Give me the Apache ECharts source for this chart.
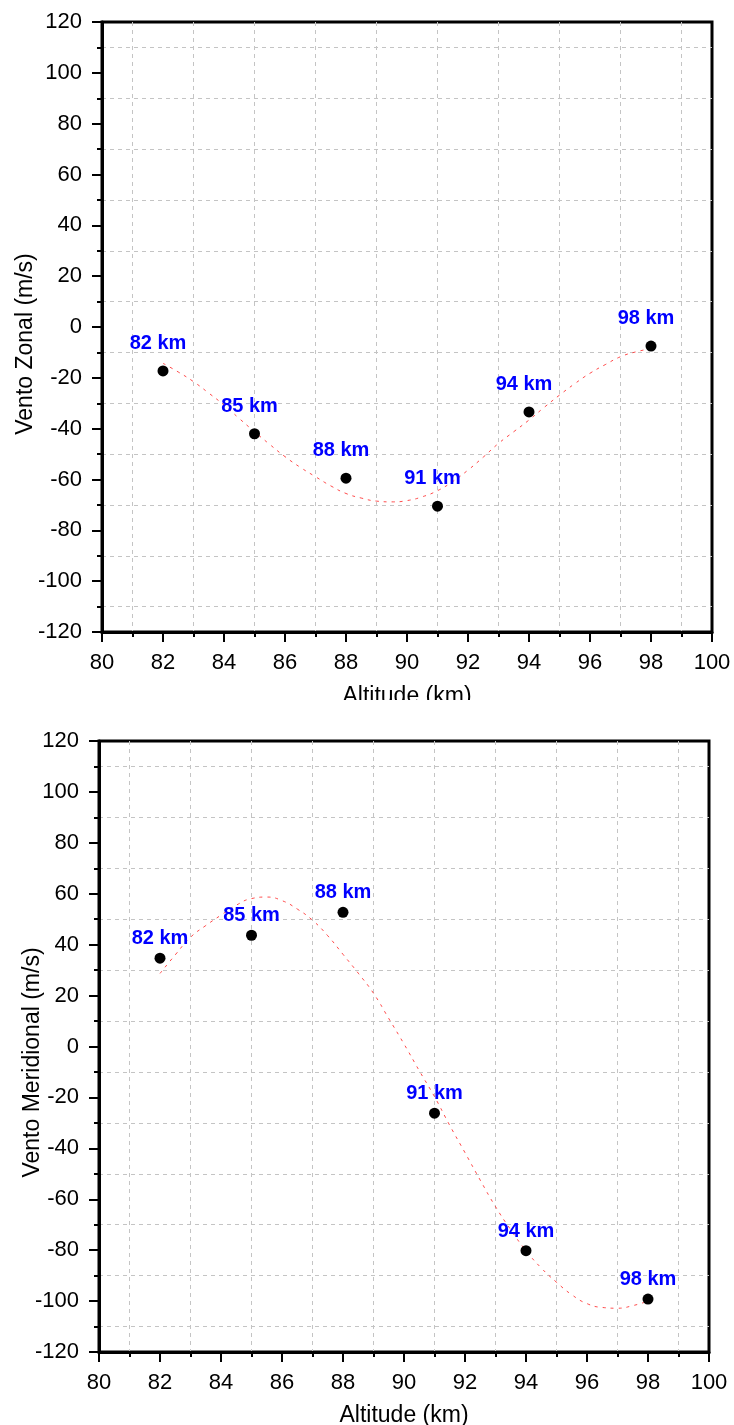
<!DOCTYPE html>
<html>
<head>
<meta charset="utf-8">
<script src="https://cdn.jsdelivr.net/npm/echarts@6/dist/echarts.min.js"></script>
<style>
  html, body { margin: 0; padding: 0; background: #fff; }
  #top { position: absolute; left: 0; top: 0; width: 734px; height: 700px; }
  #bottom { position: absolute; left: 0; top: 700px; width: 734px; height: 725px; }
</style>
</head>
<body>
<div id="top"></div>
<div id="bottom"></div>
<script>
// ---- data ----
const altitudes = [82, 85, 88, 91, 94, 98];
const pointLabels = ['82 km', '85 km', '88 km', '91 km', '94 km', '98 km'];
const zonalValues = [-17.3, -42, -59.5, -70.5, -33.4, -7.5];
const meridionalValues = [34.7, 43.7, 52.7, -26.2, -80.2, -99.2];

const fitAltitudes = [82, 82.5, 83, 83.5, 84, 84.5, 85, 85.5, 86, 86.5, 87, 87.5, 88, 88.5, 89, 89.5,
  90, 90.5, 91, 91.5, 92, 92.5, 93, 93.5, 94, 94.5, 95, 95.5, 96, 96.5, 97, 97.5, 98];
const zonalFit = [-14.3, -17.7, -21.5, -26, -30.7, -36, -41.2, -46.2, -51, -55.2, -58.9, -62.5, -65.5, -67.3, -68.5, -68.8,
  -68.3, -66.8, -64.4, -60.8, -56.3, -51.2, -45.8, -41.2, -36.6, -31.6, -26.8, -22.3, -18.2, -14.8, -11.7, -9.8, -8.5];
const meridionalFit = [28.7, 36, 42.9, 47.5, 51.6, 55.5, 58.1, 58.7, 57.3, 54, 49.6, 43.5, 36.2, 28.8, 20.9, 11,
  1, -9.5, -19.7, -31, -41.7, -52.5, -62.9, -72, -80.2, -87, -92.6, -97.5, -101, -102.5, -102.8, -101.8, -100];

const xAxisName = 'Altitude (km)';
const zonalName = 'Vento Zonal (m/s)';
const meridionalName = 'Vento Meridional (m/s)';

const FONT = "'Liberation Sans', Arial, sans-serif";

function buildOption(cfg) {
  const pts = altitudes.map((a, i) => ({ value: [a, cfg.values[i]], label: { formatter: pointLabels[i] } }));
  const fit = fitAltitudes.map((a, i) => [a, cfg.fit[i]]);
  const axisCommon = {
    axisLine: { show: true, onZero: false, lineStyle: { color: '#000', width: 3 } },
    axisTick: { show: true, inside: false, length: 10, lineStyle: { color: '#000', width: 2 } },
    minorTick: { show: true, splitNumber: 2, length: 5, lineStyle: { color: '#000', width: 2 } },
    splitLine: { show: false },
    minorSplitLine: { show: true, lineStyle: { color: '#c4c4c4', width: 1, type: [4, 4] } },
    axisLabel: { color: '#000', fontFamily: FONT, fontSize: cfg.fontSize, margin: 20 },
    nameMoveOverlap: false
  };
  return {
    animation: false,
    backgroundColor: '#fff',
    grid: {
      left: cfg.grid.left, right: cfg.grid.right, top: cfg.grid.top, bottom: cfg.grid.bottom,
      containLabel: false, outerBoundsMode: 'none',
      show: true, borderColor: '#000', borderWidth: 3, backgroundColor: 'transparent'
    },
    xAxis: Object.assign({}, axisCommon, {
      type: 'value', min: 80, max: 100, interval: 2,
      name: xAxisName, nameLocation: 'middle', nameGap: cfg.xNameGap,
      nameTextStyle: { color: '#000', fontFamily: FONT, fontSize: cfg.nameSize }
    }),
    yAxis: Object.assign({}, axisCommon, {
      type: 'value', min: -120, max: 120, interval: 20,
      name: cfg.yName, nameLocation: 'middle', nameGap: cfg.yNameGap,
      nameTextStyle: { color: '#000', fontFamily: FONT, fontSize: cfg.nameSize, padding: cfg.yNamePadding }
    }),
    series: [
      {
        type: 'line', data: fit, smooth: true, showSymbol: false, silent: true, z: 2,
        lineStyle: { color: 'rgba(255,30,30,0.8)', width: 1, type: [3, 5] }
      },
      {
        type: 'scatter', data: pts, symbol: 'circle', symbolSize: 11, z: 3,
        itemStyle: { color: '#000', opacity: 1 },
        label: {
          show: true, position: 'top', distance: cfg.labelDist, offset: cfg.labelOffset,
          color: '#0000ff', fontFamily: FONT, fontWeight: 'bold', fontSize: 20
        }
      }
    ]
  };
}

const topChart = echarts.init(document.getElementById('top'), null, { renderer: 'canvas' });
topChart.setOption(buildOption({
  values: zonalValues, fit: zonalFit, yName: zonalName,
  grid: { left: 102, right: 22, top: 22, bottom: 68 },
  fontSize: 22, nameSize: 23, xNameGap: 53, yNameGap: 65,
  yNamePadding: [0, 34, 0, 0],
  labelDist: 12, labelOffset: [-5, 0]
}));

const bottomChart = echarts.init(document.getElementById('bottom'), null, { renderer: 'canvas' });
bottomChart.setOption(buildOption({
  values: meridionalValues, fit: meridionalFit, yName: meridionalName,
  grid: { left: 99, right: 25, top: 41, bottom: 73 },
  fontSize: 22, nameSize: 23, xNameGap: 52, yNameGap: 55,
  yNamePadding: [0, 32, 0, 0],
  labelDist: 4, labelOffset: [0, 0]
}));
</script>
</body>
</html>
